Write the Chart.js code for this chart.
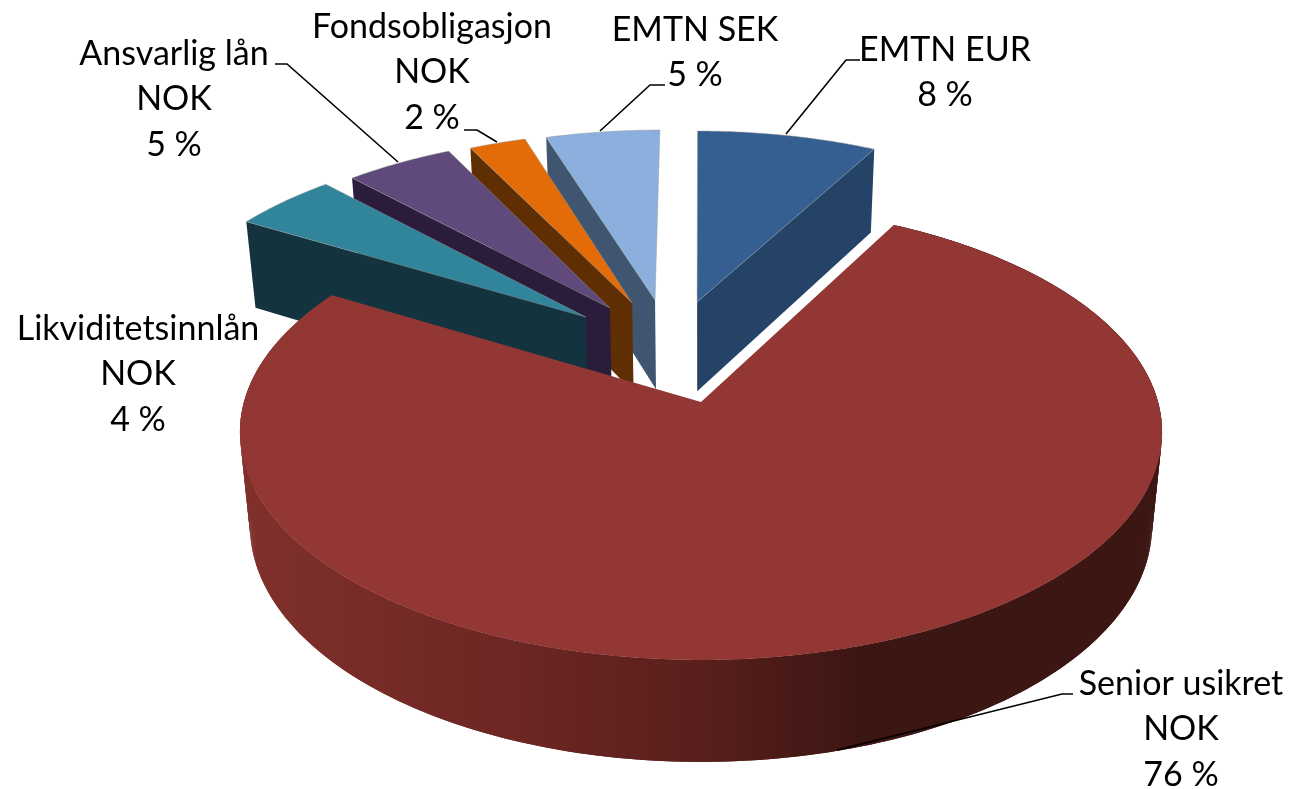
<!DOCTYPE html>
<html>
<head>
<meta charset="utf-8">
<style>
html,body{margin:0;padding:0;background:#fff;}
canvas{display:block;}
</style>
<script src="https://cdn.jsdelivr.net/npm/chart.js@4/dist/chart.umd.js"></script>
</head>
<body>
<canvas id="chart" width="1292" height="789"></canvas>
<script>
const categories = [
["EMTN EUR"],
["Senior usikret","NOK"],
["Likviditetsinnlån","NOK"],
["Ansvarlig lån","NOK"],
["Fondsobligasjon","NOK"],
["EMTN SEK"]
];
const shares = [7.8,75.7,4.45,4.65,2.45,4.95];

const topColors = ["#355f91","#933735","#31859b","#5f4a7b","#e36c09","#8cb0de"];
const wallColors = ["#254367","#6a2523","#13343f","#2c1c3b","#602e03","#3f5570"];

// slice placement on the disc: tip shift u, tip shift v, radius, which cut edge shows
const placement = [
{u:-0.009,v:-0.474,r:0.965,wall:"end"},
{u:0,v:0,r:1,wall:"rim"},
{u:-0.265,v:-0.399,r:0.985,wall:"start"},
{u:-0.211,v:-0.444,r:0.973,wall:"start"},
{u:-0.16,v:-0.469,r:0.966,wall:"start"},
{u:-0.107,v:-0.484,r:0.961,wall:"start"}
];
const drawOrder = [0,5,4,3,2,1];

// perspective of the top and bottom planes, relative to the pie radius
const topPlane = {d:1.181,a:0.5788,c:-0.1317,y:0};
const bottomPlane = {d:1.1556,a:0.6,c:-0.13,y:0.2403};

const labelPos = [
{x:945,y:50},
{x:1181,y:684},
{x:138,y:329},
{x:174,y:54},
{x:432,y:27},
{x:695,y:30}
];
const leaders = [
[[860,60],[846,60],[786,134]],
[[1073,694],[1062,694],[837,750]],
[],
[[275,64],[287,64],[398,162]],
[[464,130],[477,130],[497,142]],
[[665,85],[650,85],[600,131]]
];


function project(plane,arc,u,v){

const w = 1+plane.c*v;

return {
x:arc.x+arc.outerRadius*plane.d*u/w,
y:arc.y+arc.outerRadius*(plane.y+plane.a*v/w)
};

}


function discPoint(p,angle){

return {u:p.u+p.r*Math.cos(angle),v:p.v+p.r*Math.sin(angle)};

}


function rimPoints(arc,p,plane){

const pts=[];
const steps=Math.ceil((arc.endAngle-arc.startAngle)/0.01);

for(let i=0;i<=steps;i++){

const t=arc.startAngle+(arc.endAngle-arc.startAngle)*i/steps;
const q=discPoint(p,t);

pts.push(project(plane,arc,q.u,q.v));

}

return pts;

}


function fillPoly(ctx,pts,color){

ctx.beginPath();

pts.forEach((q,i)=>{
if(i==0){ctx.moveTo(q.x,q.y);}else{ctx.lineTo(q.x,q.y);}
});

ctx.closePath();
ctx.fillStyle=color;
ctx.fill();

}


function drawSlice(ctx,arc,i){

const p=placement[i];
const topRim=rimPoints(arc,p,topPlane);
const bottomRim=rimPoints(arc,p,bottomPlane);
const tipTop=project(topPlane,arc,p.u,p.v);
const tipBottom=project(bottomPlane,arc,p.u,p.v);

if(p.wall=="rim"){

const g=ctx.createLinearGradient(245,0,1160,0);
g.addColorStop(0,"#80302b");
g.addColorStop(0.3,"#6c2623");
g.addColorStop(0.5,"#591f1c");
g.addColorStop(0.67,"#3c1613");
g.addColorStop(1,"#3c1613");

// small overlapping quads, the rim folds over itself at the left and right edge
for(let n=0;n<topRim.length-2;n++){
fillPoly(ctx,[topRim[n],topRim[n+2],bottomRim[n+2],bottomRim[n]],g);
}

}

if(p.wall=="start"){

fillPoly(ctx,[topRim[0],tipTop,tipBottom,bottomRim[0]],wallColors[i]);

}

if(p.wall=="end"){

fillPoly(ctx,[topRim[topRim.length-1],tipTop,tipBottom,bottomRim[bottomRim.length-1]],wallColors[i]);

}

fillPoly(ctx,[tipTop].concat(topRim),arc.options.backgroundColor);

if(p.wall!="rim"){

ctx.strokeStyle="rgba(150,150,150,0.45)";
ctx.lineWidth=1;
ctx.stroke();

}

}


function drawLabels(ctx){

ctx.font="34px Lato";
ctx.textAlign="center";
ctx.textBaseline="middle";
ctx.fillStyle="#000";

categories.forEach((name,i)=>{

const lines=name.concat([Math.round(shares[i])+" %"]);

lines.forEach((line,n)=>{
ctx.fillText(line,labelPos[i].x,labelPos[i].y+n*45.5);
});

});

ctx.strokeStyle="#000";
ctx.lineWidth=1.6;

leaders.forEach(line=>{

if(!line.length){return;}

ctx.beginPath();

line.forEach((q,i)=>{
if(i==0){ctx.moveTo(q[0],q[1]);}else{ctx.lineTo(q[0],q[1]);}
});

ctx.stroke();

});

}


const pie3d = {

id:"pie3d",

beforeDatasetsDraw(chart){

const ctx=chart.ctx;
const arcs=chart.getDatasetMeta(0).data;

drawOrder.forEach(i=>drawSlice(ctx,arcs[i],i));

drawLabels(ctx);

return false;

}

};


new Chart(document.getElementById("chart"),{

type:"pie",

data:{
labels:categories,
datasets:[{
data:shares,
backgroundColor:topColors,
borderWidth:0
}]
},

options:{
responsive:false,
animation:false,
layout:{padding:{left:110,top:15}},
plugins:{legend:{display:false},tooltip:{enabled:false}}
},

plugins:[pie3d]

});
</script>
</body>
</html>
